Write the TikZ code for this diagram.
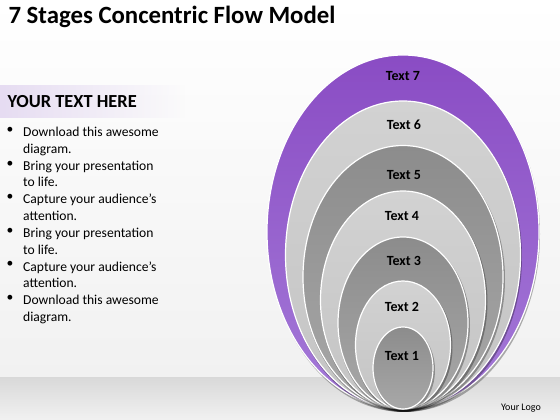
\documentclass[tikz,border=0pt]{standalone}
\usepackage{fontspec}
\setmainfont{Carlito}
\usetikzlibrary{positioning,fadings}
\definecolor{purple1}{HTML}{8A4CC4}
\definecolor{purple2}{HTML}{A47AD8}
\definecolor{grey1}{HTML}{C4C4C4}
\definecolor{grey2}{HTML}{D2D2D2}
\definecolor{grey3}{HTML}{8C8C8C}
\definecolor{grey4}{HTML}{A8A8A8}
\definecolor{band1}{HTML}{D9D9D9}
\definecolor{band2}{HTML}{F1F1F1}
\definecolor{lilac}{HTML}{E6DCF2}

\begin{document}
\begin{tikzpicture}[x=1pt, y=1pt, align=left]
\tikzset{
  stage/.style={draw=white, line width=1.2pt},
  shadow/.style={fill=black, opacity=0.3},
  stagetext/.style={font=\fontsize{14}{16}\selectfont\bfseries, text=black},
  item/.style={anchor=north west, inner sep=0pt, font=\fontsize{13.6}{16.8}\selectfont},
  dot/.style={anchor=north, inner sep=0pt, font=\fontsize{13.6}{16.8}\selectfont}
}
\useasboundingbox (0,0) rectangle (560,420);
\shade[top color=white, bottom color=band2] (0,42) rectangle (560,420);
\shade[top color=band1, bottom color=band2] (0,0) rectangle (560,42);

% left column
\fill[lilac, path fading=east] (0,302) rectangle (185,335);
\node[anchor=west, font=\fontsize{24.8}{28}\selectfont\bfseries] (title) at (5,403) {7 Stages Concentric Flow Model};
\node[anchor=west, font=\fontsize{18.4}{20}\selectfont\bfseries] (head) at (4,318) {YOUR TEXT HERE};

\node[item] (i1) at (23,293) {Download this awesome\\diagram.};
\node[item] (i2) at (23,259.4) {Bring your presentation\\to life.};
\node[item] (i3) at (23,225.8) {Capture your audience’s\\attention.};
\node[item] (i4) at (23,192.2) {Bring your presentation\\to life.};
\node[item] (i5) at (23,158.6) {Capture your audience’s\\attention.};
\node[item] (i6) at (23,125) {Download this awesome\\diagram.};
\foreach \i in {1,...,6}
  \node[dot] (b\i) at ([xshift=-13pt]i\i.north west) {•};

% stages, outer to inner
\fill[shadow, shift={(404,186)}] (0,0) ellipse (136 and 178);
\shadedraw[stage, top color=purple1, bottom color=purple2, shift={(403,188)}] (0,0) ellipse (136 and 177);
\fill[shadow, shift={(404,163)}] (0,0) ellipse (118 and 155);
\shadedraw[stage, top color=grey2, bottom color=grey1, shift={(403,165)}] (0,0) ellipse (117.5 and 154);
\fill[shadow, shift={(404,141)}] (0,0) ellipse (101 and 132);
\shadedraw[stage, top color=grey3, bottom color=grey4, shift={(403,143)}] (0,0) ellipse (100 and 131.5);
\fill[shadow, shift={(404,118)}] (0,0) ellipse (83.5 and 110);
\shadedraw[stage, top color=grey2, bottom color=grey1, shift={(403,120)}] (0,0) ellipse (82.5 and 109);
\fill[shadow, shift={(404,95)}] (0,0) ellipse (66 and 87);
\shadedraw[stage, top color=grey3, bottom color=grey4, shift={(403,97)}] (0,0) ellipse (65 and 86);
\fill[shadow, shift={(404,73)}] (0,0) ellipse (48.5 and 65);
\shadedraw[stage, top color=grey2, bottom color=grey1, shift={(403,75)}] (0,0) ellipse (47.5 and 64);
\fill[shadow, shift={(404,50)}] (0,0) ellipse (31 and 42);
\shadedraw[stage, top color=grey3, bottom color=grey4, shift={(403,52)}] (0,0) ellipse (30 and 41);

\node[stagetext] (t7) at (403,344) {Text 7};
\node[stagetext] (t6) at (404,295) {Text 6};
\node[stagetext] (t5) at (404,245) {Text 5};
\node[stagetext] (t4) at (402,204) {Text 4};
\node[stagetext] (t3) at (404,159) {Text 3};
\node[stagetext] (t2) at (402,113) {Text 2};
\node[stagetext] (t1) at (402,64) {Text 1};

\node[font=\fontsize{10}{12}\selectfont] (logo) at (521,12) {Your Logo};
\end{tikzpicture}
\end{document}
